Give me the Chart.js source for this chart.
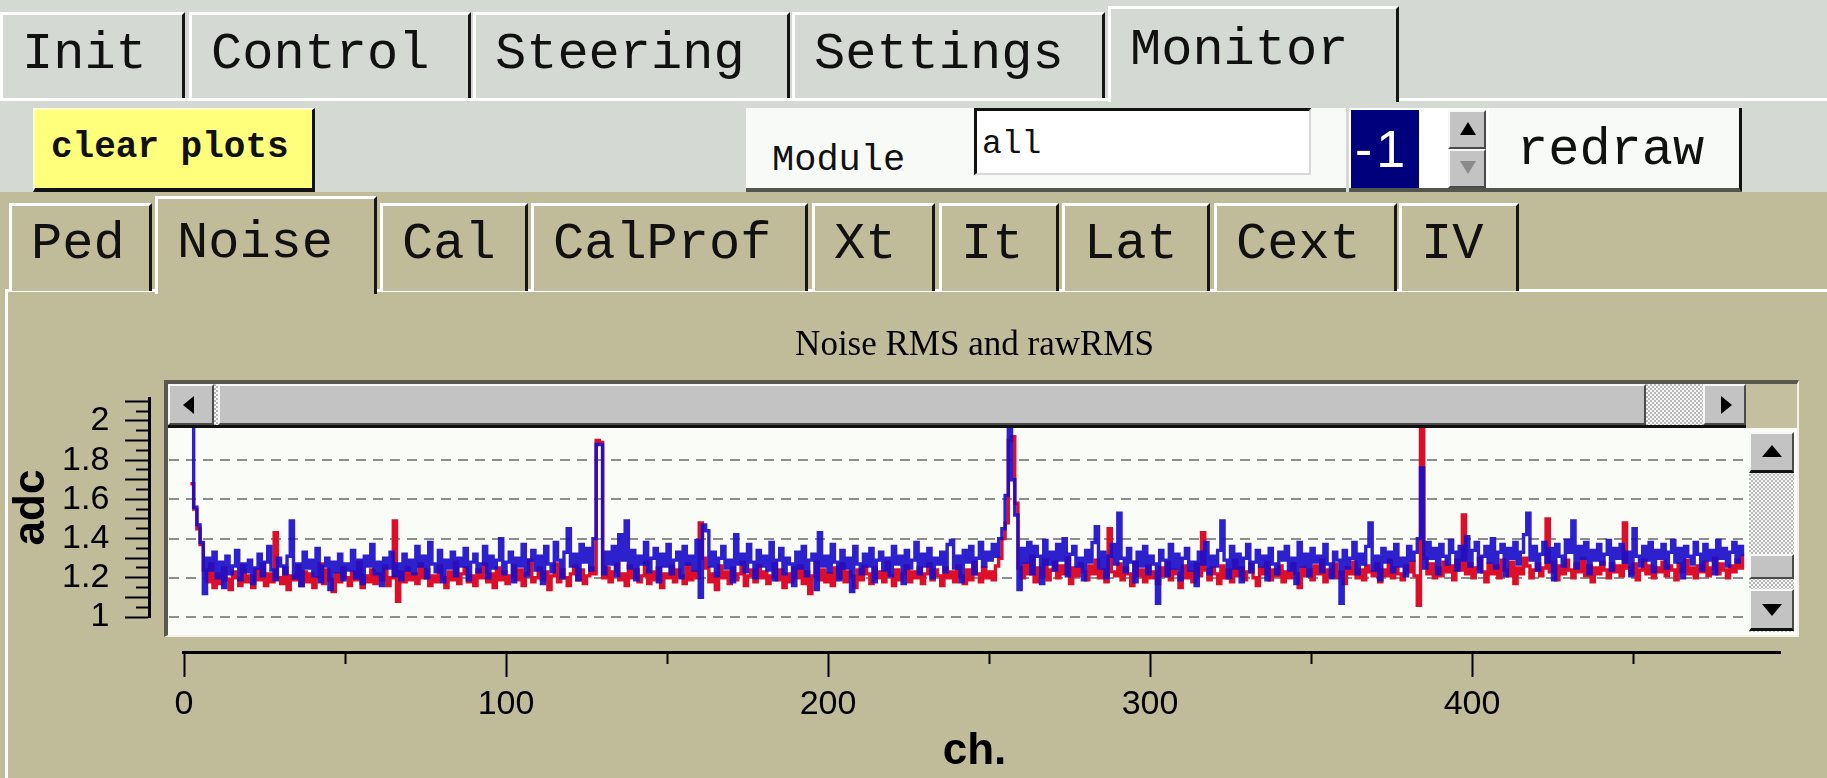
<!DOCTYPE html>
<html>
<head>
<meta charset="utf-8">
<title>Noise RMS and rawRMS</title>
<script src="https://cdn.jsdelivr.net/npm/chart.js@4.4.1/dist/chart.umd.min.js"></script>
<style>
  html, body { margin: 0; padding: 0; }
  body { width: 1827px; height: 778px; overflow: hidden; position: relative; background: #d5d9d3;
         font-family: "Liberation Mono", "DejaVu Sans Mono", monospace; color: #111; }
  .box { position: absolute; box-sizing: border-box; }
  .tab { position: absolute; box-sizing: border-box; border-top: 3px solid #fff; border-left: 3px solid #fff;
         border-right: 3px solid #161616; font-size: 52px; padding-left: 19px; white-space: nowrap; }
  .top .tab { top: 12px; height: 86px; line-height: 80px; background: #d5d9d3; }
  .top .tab.sel { top: 6px; height: 96px; line-height: 84px; z-index: 2; }
  .sub .tab { top: 203px; height: 88px; line-height: 78px; background: #c0bc9a; }
  .sub .tab.sel { top: 196px; height: 98px; line-height: 90px; z-index: 2; }
  .bev { position: absolute; box-sizing: border-box; background: #c3c3c3; border-top: 2px solid #f6f6f6;
         border-left: 2px solid #f6f6f6; border-right: 2px solid #4a4a4a; border-bottom: 2px solid #4a4a4a; }
  .dither { background-color: #eee; background-image: repeating-conic-gradient(#b9b9b9 0 25%, #f5f5f5 0 50%);
            background-size: 4px 4px; }
  .tri { position: absolute; width: 0; height: 0; }
</style>
</head>
<body>
<!-- top tabs -->
<div class="box" style="left:0;top:98px;width:1827px;height:3px;background:#fff;"></div>
<div class="top">
  <div class="tab" style="left:0;width:185px;">Init</div>
  <div class="tab" style="left:189px;width:282px;">Control</div>
  <div class="tab" style="left:473px;width:317px;">Steering</div>
  <div class="tab" style="left:792px;width:313px;">Settings</div>
  <div class="tab sel" style="left:1108px;width:291px;">Monitor</div>
</div>

<!-- second row of controls -->
<div class="box" style="left:33px;top:108px;width:282px;height:84px;background:#ffff7c;border-top:2px solid #ffffd0;border-left:2px solid #ffffd0;border-right:3px solid #111;border-bottom:4px solid #111;font-size:36px;font-weight:bold;line-height:76px;padding-left:16px;">clear plots</div>
<div class="box" style="left:746px;top:108px;width:600px;height:84px;background:#f8faf7;border-bottom:4px solid #55554f;"></div>
<div class="box" style="left:772px;top:140px;font-size:37px;line-height:40px;">Module</div>
<div class="box" style="left:974px;top:108px;width:337px;height:67px;background:#fff;border-top:3px solid #111;border-left:3px solid #111;border-right:2px solid #d8d8d8;border-bottom:2px solid #d8d8d8;font-size:33px;line-height:40px;padding-left:5px;padding-top:14px;">all</div>
<div class="box" style="left:1349px;top:108px;width:140px;height:84px;background:#fff;border-bottom:4px solid #55554f;"></div>
<div class="box" style="left:1351px;top:110px;width:68px;height:78px;background:#00007c;color:#fff;font-family:'Liberation Sans',sans-serif;font-size:52px;line-height:78px;padding-left:4px;letter-spacing:4px;">-1</div>
<div class="bev" style="left:1448px;top:110px;width:38px;height:39px;">
  <div class="tri" style="left:10px;top:10px;border-left:8px solid transparent;border-right:8px solid transparent;border-bottom:13px solid #000;"></div>
</div>
<div class="bev" style="left:1448px;top:149px;width:38px;height:39px;">
  <div class="tri" style="left:10px;top:10px;border-left:8px solid transparent;border-right:8px solid transparent;border-top:13px solid #8a8a8a;"></div>
</div>
<div class="box" style="left:1489px;top:108px;width:253px;height:84px;background:#f8faf7;border-right:3px solid #111;border-bottom:4px solid #55554f;font-size:52px;line-height:86px;padding-left:28px;">redraw</div>

<!-- khaki tab panel -->
<div class="box" style="left:0;top:192px;width:1827px;height:586px;background:#c0bc9a;"></div>
<div class="box" style="left:6px;top:289px;width:1821px;height:3px;background:#fff;"></div>
<div class="box" style="left:5px;top:289px;width:3px;height:489px;background:#fff;"></div>
<div class="sub">
  <div class="tab" style="left:9px;width:143px;">Ped</div>
  <div class="tab sel" style="left:155px;width:222px;">Noise</div>
  <div class="tab" style="left:380px;width:148px;">Cal</div>
  <div class="tab" style="left:531px;width:277px;">CalProf</div>
  <div class="tab" style="left:812px;width:123px;">Xt</div>
  <div class="tab" style="left:939px;width:120px;">It</div>
  <div class="tab" style="left:1062px;width:148px;">Lat</div>
  <div class="tab" style="left:1214px;width:183px;">Cext</div>
  <div class="tab" style="left:1399px;width:120px;">IV</div>
</div>

<!-- plot frame (behind the chart) -->
<div class="box" style="left:164px;top:380px;width:1635px;height:257px;background:#fafcf8;border-top:4px solid #58584f;border-left:4px solid #58584f;border-right:2px solid #f2f2ea;border-bottom:2px solid #f2f2ea;z-index:1;"></div>

<div class="box" style="left:0;top:300px;width:1800px;height:478px;z-index:2;">
  <canvas id="noise" width="1800" height="478"></canvas>
</div>

<!-- scrollbars over the chart -->
<div class="box dither" style="left:168px;top:384px;width:1578px;height:44px;z-index:3;">
  <div class="bev" style="left:0;top:0;width:46px;height:41px;">
    <div class="tri" style="left:13px;top:10px;border-top:9px solid transparent;border-bottom:9px solid transparent;border-right:11px solid #000;"></div>
  </div>
  <div class="bev" style="left:50px;top:0;width:1428px;height:41px;"></div>
  <div class="bev" style="left:1535px;top:0;width:43px;height:41px;">
    <div class="tri" style="left:16px;top:10px;border-top:9px solid transparent;border-bottom:9px solid transparent;border-left:11px solid #000;"></div>
  </div>
  <div class="box" style="left:0;top:41px;width:1578px;height:3px;background:#111;"></div>
</div>
<div class="box" style="left:1746px;top:384px;width:51px;height:44px;background:#c3bf9f;z-index:3;"></div>
<div class="box dither" style="left:1749px;top:432px;width:45px;height:200px;z-index:3;">
  <div class="bev" style="left:0;top:0;width:45px;height:41px;border-bottom:3px solid #111;">
    <div class="tri" style="left:11px;top:11px;border-left:10px solid transparent;border-right:10px solid transparent;border-bottom:12px solid #000;"></div>
  </div>
  <div class="bev" style="left:0;top:122px;width:45px;height:25px;"></div>
  <div class="bev" style="left:0;top:157px;width:45px;height:42px;border-bottom:3px solid #111;">
    <div class="tri" style="left:11px;top:13px;border-left:10px solid transparent;border-right:10px solid transparent;border-top:12px solid #000;"></div>
  </div>
</div>
<div class="box" style="left:160px;top:644px;width:22px;height:16px;background:#c0bc9a;z-index:3;"></div>

<script>
// channel numbers start here, one value per channel
const firstChannel = 2;

// rawRMS (blue)
const rawRms = [
  2.10, 1.56, 1.47, 1.38, 1.12, 1.30, 1.24, 1.33,
  1.20, 1.28, 1.15, 1.31, 1.22, 1.26, 1.34, 1.19, 1.27, 1.23,
  1.29, 1.17, 1.25, 1.32, 1.21, 1.28, 1.36, 1.24, 1.19, 1.30,
  1.26, 1.22, 1.31, 1.49, 1.20, 1.27, 1.16, 1.33, 1.25, 1.29,
  1.21, 1.35, 1.18, 1.26, 1.30, 1.14, 1.28, 1.23, 1.32, 1.19,
  1.27, 1.24, 1.34, 1.20, 1.29, 1.17, 1.31, 1.26, 1.37, 1.22,
  1.28, 1.16, 1.30, 1.25, 1.33, 1.21, 1.27, 1.19, 1.32, 1.24,
  1.29, 1.22, 1.36, 1.26, 1.31, 1.20, 1.38, 1.27, 1.23, 1.34,
  1.18, 1.29, 1.25, 1.33, 1.21, 1.30, 1.26, 1.35, 1.19, 1.28,
  1.32, 1.23, 1.27, 1.36, 1.20, 1.31, 1.25, 1.29, 1.40, 1.22,
  1.28, 1.33, 1.18, 1.30, 1.26, 1.37, 1.21, 1.29, 1.34, 1.24,
  1.31, 1.17, 1.36, 1.27, 1.23, 1.38, 1.29, 1.20, 1.33, 1.45,
  1.26, 1.32, 1.19, 1.37, 1.28, 1.35, 1.24, 1.40,
  1.88, 1.88,
  1.22, 1.33, 1.27, 1.36, 1.21, 1.42, 1.29, 1.49, 1.25, 1.34,
  1.19, 1.31, 1.27, 1.38, 1.23, 1.30, 1.35, 1.18, 1.32, 1.26,
  1.37, 1.22, 1.29, 1.33, 1.20, 1.36, 1.27, 1.31, 1.24, 1.39,
  1.10, 1.47, 1.44, 1.26, 1.33, 1.21, 1.30, 1.36, 1.25, 1.29,
  1.18, 1.42, 1.27, 1.32, 1.23, 1.37, 1.28, 1.20, 1.34, 1.26,
  1.31, 1.24, 1.38, 1.19, 1.29, 1.35, 1.22, 1.30, 1.27, 1.16,
  1.33, 1.25, 1.36, 1.21, 1.29, 1.32, 1.14, 1.43, 1.26, 1.31,
  1.23, 1.37, 1.28, 1.19, 1.34, 1.25, 1.30, 1.13, 1.36, 1.27,
  1.22, 1.32, 1.26, 1.35, 1.18, 1.29, 1.33, 1.24, 1.30, 1.21,
  1.36, 1.27, 1.31, 1.17, 1.34, 1.25, 1.29, 1.38, 1.22, 1.32,
  1.26, 1.35, 1.20, 1.30, 1.27, 1.33, 1.23, 1.37, 1.39, 1.25,
  1.31, 1.18, 1.34, 1.28, 1.36, 1.22, 1.30, 1.38, 1.26, 1.33,
  1.29, 1.37, 1.31, 1.40,
  1.45, 1.62, 2.02, 1.70, 1.52,
  1.14, 1.35, 1.28, 1.38, 1.22, 1.36, 1.31, 1.17, 1.39, 1.27, 1.33,
  1.24, 1.37, 1.29, 1.40, 1.21, 1.32, 1.36, 1.26, 1.30, 1.19,
  1.34, 1.28, 1.38, 1.46, 1.25, 1.33, 1.20, 1.31, 1.37, 1.27,
  1.53, 1.30, 1.23, 1.35, 1.28, 1.18, 1.33, 1.26, 1.36, 1.22,
  1.31, 1.27, 1.07, 1.34, 1.29, 1.21, 1.37, 1.25, 1.32, 1.19,
  1.30, 1.35, 1.24, 1.28, 1.16, 1.33, 1.27, 1.38, 1.22, 1.31,
  1.26, 1.34, 1.49, 1.29, 1.20, 1.36, 1.25, 1.32, 1.18, 1.30,
  1.37, 1.23, 1.28, 1.34, 1.26, 1.31, 1.19, 1.35, 1.27, 1.22,
  1.33, 1.29, 1.36, 1.24, 1.30, 1.17, 1.38, 1.26, 1.32, 1.21,
  1.35, 1.28, 1.31, 1.23, 1.37, 1.27, 1.20, 1.33, 1.29, 1.07,
  1.34, 1.25, 1.30, 1.38, 1.22, 1.32, 1.27, 1.36, 1.48, 1.24,
  1.31, 1.19, 1.35, 1.28, 1.33, 1.23, 1.37, 1.26, 1.30, 1.21,
  1.36, 1.29, 1.33, 1.40,
  1.76,
  1.25, 1.38, 1.30, 1.35, 1.22,
  1.37, 1.31, 1.27, 1.39, 1.33, 1.24, 1.36, 1.29, 1.41, 1.26,
  1.34, 1.38, 1.23, 1.31, 1.36, 1.28, 1.40, 1.25, 1.33, 1.37,
  1.21, 1.35, 1.30, 1.38, 1.27, 1.33, 1.42, 1.53, 1.29, 1.36,
  1.24, 1.32, 1.38, 1.28, 1.35, 1.19, 1.37, 1.31, 1.26, 1.39,
  1.33, 1.49, 1.25, 1.36, 1.30, 1.38, 1.22, 1.34, 1.29, 1.37,
  1.27, 1.32, 1.39, 1.24, 1.35, 1.30, 1.37, 1.28, 1.33, 1.21,
  1.45, 1.31, 1.26, 1.36, 1.29, 1.38, 1.23, 1.34, 1.30, 1.37,
  1.25, 1.33, 1.39, 1.28, 1.35, 1.20, 1.36, 1.31, 1.27, 1.38,
  1.32, 1.24, 1.37, 1.29, 1.34, 1.22, 1.39, 1.30, 1.35, 1.26,
  1.33, 1.38, 1.28, 1.36, 1.31
];

// RMS (red)
const rms = [
  1.68, 1.55, 1.45, 1.37, 1.24, 1.18, 1.27, 1.15,
  1.22, 1.17, 1.25, 1.19, 1.14, 1.23, 1.20, 1.16, 1.26, 1.18,
  1.21, 1.15, 1.24, 1.19, 1.27, 1.16, 1.22, 1.18, 1.43, 1.20,
  1.17, 1.25, 1.14, 1.21, 1.19, 1.26, 1.16, 1.23, 1.18, 1.22,
  1.15, 1.20, 1.27, 1.17, 1.24, 1.19, 1.13, 1.22, 1.18, 1.25,
  1.20, 1.16, 1.23, 1.19, 1.28, 1.15, 1.21, 1.18, 1.24, 1.17,
  1.22, 1.19, 1.26, 1.16, 1.20, 1.49, 1.08, 1.23, 1.18, 1.25,
  1.19, 1.22, 1.17, 1.27, 1.20, 1.24, 1.16, 1.21, 1.18, 1.26,
  1.20, 1.15, 1.23, 1.19, 1.28, 1.17, 1.22, 1.25, 1.18, 1.21,
  1.16, 1.24, 1.20, 1.27, 1.18, 1.22, 1.15, 1.25, 1.19, 1.23,
  1.17, 1.21, 1.26, 1.19, 1.24, 1.16, 1.22, 1.29, 1.18, 1.20,
  1.25, 1.19, 1.23, 1.14, 1.21, 1.27, 1.18, 1.24, 1.20, 1.16,
  1.22, 1.26, 1.19, 1.24, 1.17, 1.21, 1.25, 1.22,
  1.90, 1.89,
  1.20, 1.25, 1.18, 1.23, 1.27, 1.19, 1.22, 1.16, 1.26, 1.20,
  1.24, 1.18, 1.21, 1.28, 1.17, 1.23, 1.19, 1.25, 1.15, 1.22,
  1.20, 1.26, 1.18, 1.24, 1.21, 1.17, 1.27, 1.19, 1.23, 1.20,
  1.48, 1.30, 1.25, 1.18, 1.22, 1.14, 1.26, 1.20, 1.23, 1.17,
  1.25, 1.19, 1.22, 1.28, 1.16, 1.21, 1.24, 1.18, 1.26, 1.20,
  1.23, 1.17, 1.21, 1.27, 1.19, 1.24, 1.15, 1.22, 1.18, 1.25,
  1.20, 1.26, 1.17, 1.23, 1.12, 1.21, 1.28, 1.19, 1.24, 1.18,
  1.22, 1.16, 1.25, 1.20, 1.27, 1.18, 1.23, 1.21, 1.15, 1.24,
  1.19, 1.26, 1.22, 1.17, 1.25, 1.20, 1.23, 1.18, 1.28, 1.21,
  1.16, 1.24, 1.19, 1.22, 1.26, 1.18, 1.23, 1.20, 1.25, 1.17,
  1.22, 1.27, 1.19, 1.24, 1.21, 1.16, 1.25, 1.20, 1.23, 1.18,
  1.26, 1.21, 1.17, 1.24, 1.19, 1.28, 1.22, 1.18, 1.25, 1.20,
  1.23, 1.19, 1.26, 1.30,
  1.40, 1.48, 1.90, 1.92, 1.58,
  1.25, 1.20, 1.27, 1.22, 1.31, 1.18, 1.25, 1.21, 1.29, 1.19, 1.24,
  1.28, 1.20, 1.26, 1.22, 1.30, 1.17, 1.25, 1.21, 1.27, 1.23,
  1.19, 1.26, 1.22, 1.29, 1.20, 1.24, 1.18, 1.45, 1.23, 1.21,
  1.27, 1.19, 1.25, 1.22, 1.16, 1.28, 1.21, 1.24, 1.18, 1.26,
  1.20, 1.23, 1.17, 1.25, 1.21, 1.28, 1.19, 1.24, 1.22, 1.15,
  1.26, 1.20, 1.23, 1.18, 1.27, 1.21, 1.43, 1.24, 1.19, 1.25,
  1.22, 1.17, 1.26, 1.20, 1.24, 1.18, 1.29, 1.21, 1.25, 1.19,
  1.23, 1.27, 1.20, 1.16, 1.25, 1.22, 1.28, 1.19, 1.24, 1.21,
  1.26, 1.18, 1.23, 1.20, 1.27, 1.22, 1.15, 1.25, 1.21, 1.24,
  1.19, 1.26, 1.22, 1.29, 1.18, 1.24, 1.21, 1.27, 1.20, 1.23,
  1.17, 1.25, 1.22, 1.28, 1.20, 1.24, 1.19, 1.26, 1.23, 1.21,
  1.27, 1.18, 1.24, 1.21, 1.29, 1.20, 1.25, 1.22, 1.19, 1.26,
  1.23, 1.28, 1.21, 1.06,
  2.06,
  1.30, 1.22, 1.27, 1.20, 1.25,
  1.21, 1.28, 1.23, 1.26, 1.19, 1.29, 1.24, 1.52, 1.22, 1.27,
  1.20, 1.25, 1.30, 1.23, 1.18, 1.27, 1.22, 1.26, 1.20, 1.29,
  1.24, 1.21, 1.28, 1.17, 1.25, 1.22, 1.30, 1.26, 1.20, 1.24,
  1.27, 1.21, 1.25, 1.50, 1.23, 1.28, 1.19, 1.26, 1.22, 1.29,
  1.24, 1.20, 1.27, 1.23, 1.30, 1.21, 1.26, 1.18, 1.25, 1.22,
  1.28, 1.24, 1.20, 1.27, 1.23, 1.26, 1.21, 1.48, 1.25, 1.22,
  1.27, 1.19, 1.24, 1.29, 1.22, 1.26, 1.20, 1.25, 1.23, 1.28,
  1.21, 1.26, 1.24, 1.19, 1.27, 1.23, 1.29, 1.22, 1.25, 1.20,
  1.26, 1.23, 1.28, 1.21, 1.25, 1.30, 1.22, 1.27, 1.24, 1.20,
  1.26, 1.23, 1.29, 1.25, 1.32
];

// tick values
const xTicks = [0, 100, 200, 300, 400];
const xMinorTicks = [50, 150, 250, 350, 450];
const yTicks = [1, 1.2, 1.4, 1.6, 1.8, 2];
const yRulerMajor = [1, 1.1, 1.2, 1.3, 1.4, 1.5, 1.6, 1.7, 1.8, 1.9, 2, 2.1];
const yRulerMinor = [1.05, 1.15, 1.25, 1.35, 1.45, 1.55, 1.65, 1.75, 1.85, 1.95, 2.05];

// visible window of the plot
const xMin = -4.66, xMax = 495.65;
const yMin = 1, yMax = 2.117;

function toPoints(values) {
    return values.map((v, i) => ({ x: firstChannel + i, y: v }));
}
function fixTicks(values) {
    return function (scale) {
        scale.ticks = values.map(v => ({ value: v }));
    };
}

Chart.defaults.font.family = "'Liberation Sans', Arial, sans-serif";
Chart.defaults.color = '#000';

const hidden = { display: false };
const data = {
    datasets: [{
        label: 'rawRMS',
        data: toPoints(rawRms),
        borderColor: 'rgba(26, 14, 200, 0.92)',
        borderWidth: 3.4,
        pointRadius: 0,
        stepped: true,
        clip: { left: 0, top: -30, right: 0, bottom: 0 }
    }, {
        label: 'RMS',
        data: toPoints(rms),
        borderColor: 'rgb(220, 14, 42)',
        borderWidth: 3.4,
        pointRadius: 0,
        stepped: true,
        clip: { left: 0, top: -30, right: 0, bottom: 0 }
    }]
};

const config = {
    type: 'line',
    data: data,
    options: {
        responsive: false,
        devicePixelRatio: 1,
        animation: false,
        events: [],
        layout: { padding: { left: 5, right: 20, top: 0, bottom: 0 } },
        plugins: {
            legend: hidden,
            tooltip: { enabled: false },
            title: {
                display: true,
                text: 'Noise RMS and rawRMS',
                fullSize: false,
                color: '#000',
                font: { family: "'Liberation Serif', 'Times New Roman', serif", size: 35, weight: 'normal' },
                padding: { top: 25, bottom: 31 }
            }
        },
        scales: {
            x: {
                type: 'linear', axis: 'x', min: xMin, max: xMax,
                position: { y: 0.8214 },
                afterBuildTicks: fixTicks(xTicks),
                ticks: { font: { size: 34 }, padding: 9, maxRotation: 0, autoSkip: false },
                grid: { drawOnChartArea: false, tickLength: 23, tickWidth: 2, tickColor: '#000' },
                border: { display: true, color: '#000', width: 3 }
            },
            xMinor: {
                type: 'linear', axis: 'x', min: xMin, max: xMax,
                position: { y: 0.8214 },
                afterBuildTicks: fixTicks(xMinorTicks),
                ticks: hidden,
                grid: { drawOnChartArea: false, tickLength: 12, tickWidth: 2, tickColor: '#000' },
                border: hidden
            },
            xTitle: {
                type: 'linear', axis: 'x', position: 'bottom',
                ticks: hidden, grid: hidden, border: hidden,
                title: { display: true, text: 'ch.', color: '#000', padding: 0,
                         font: { size: 44, weight: 'bold' } },
                afterFit: function (scale) { scale.height = 161; }
            },
            y: {
                type: 'linear', axis: 'y', min: yMin, max: yMax,
                position: { x: -23.2 },
                afterBuildTicks: fixTicks(yTicks),
                ticks: {
                    font: { size: 34 }, autoSkip: false,
                    callback: function (value) { return String(Math.round(value * 10) / 10); }
                },
                grid: { drawTicks: false, color: '#8e8e8e', lineWidth: 2 },
                border: { display: false, dash: [10, 7] }
            },
            yMajor: {
                type: 'linear', axis: 'y', min: yMin, max: yMax,
                position: { x: -10.87 },
                afterBuildTicks: fixTicks(yRulerMajor),
                ticks: hidden,
                grid: { drawOnChartArea: false, tickLength: 23, tickWidth: 2, tickColor: '#000' },
                border: { display: true, color: '#000', width: 3 }
            },
            yMinor: {
                type: 'linear', axis: 'y', min: yMin, max: yMax,
                position: { x: -10.87 },
                afterBuildTicks: fixTicks(yRulerMinor),
                ticks: hidden,
                grid: { drawOnChartArea: false, tickLength: 13, tickWidth: 2, tickColor: '#000' },
                border: hidden
            },
            yTitle: {
                type: 'linear', axis: 'y', position: 'left',
                ticks: hidden, grid: hidden, border: hidden,
                title: { display: true, text: 'adc', color: '#000', padding: 0,
                         font: { size: 44, weight: 'bold' } },
                afterFit: function (scale) { scale.width = 164; }
            }
        }
    }
};

const chart = new Chart(document.getElementById('noise'), config);
</script>
</body>
</html>
